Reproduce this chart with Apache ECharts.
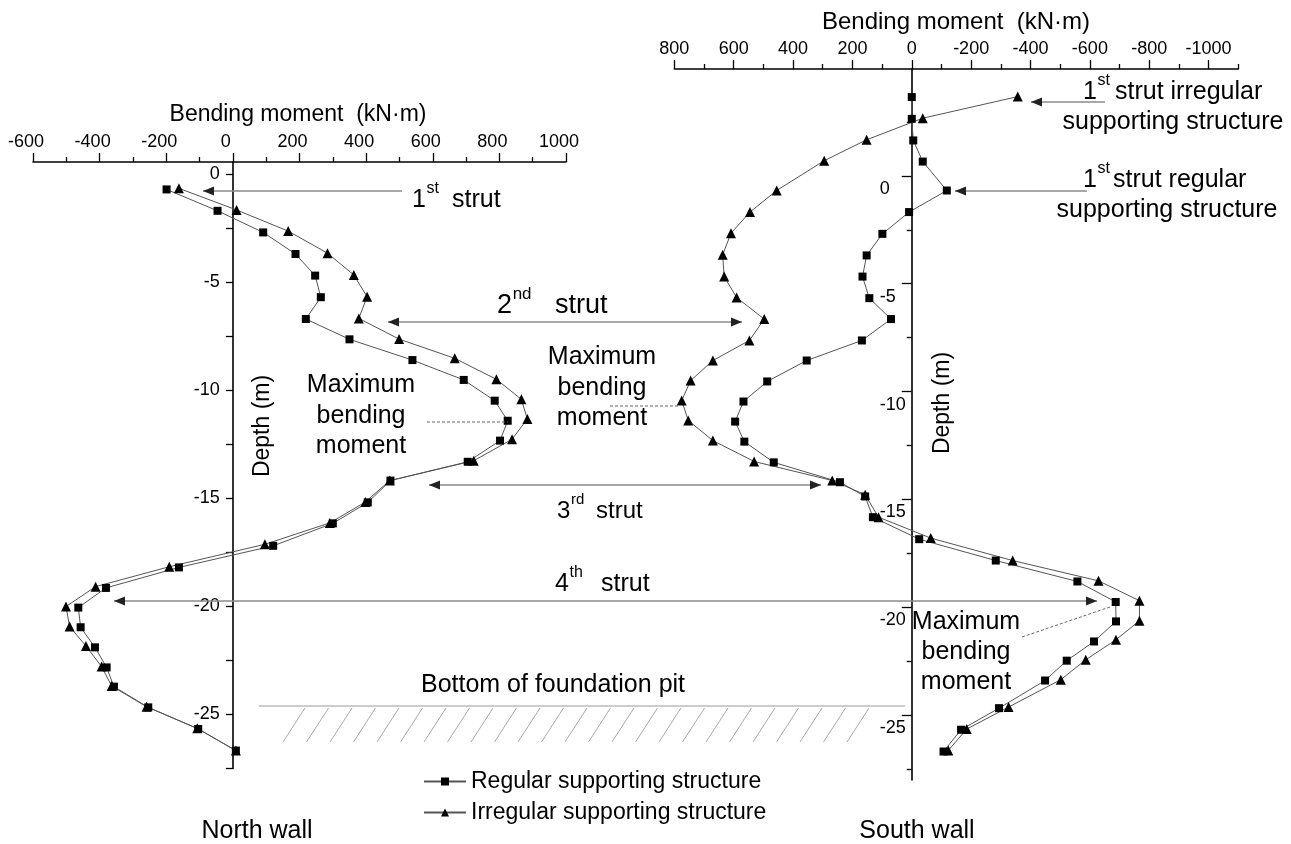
<!DOCTYPE html>
<html><head><meta charset="utf-8">
<script src="https://cdn.jsdelivr.net/npm/echarts@6/dist/echarts.min.js"></script>
<style>html,body{margin:0;padding:0;background:#fff}#c{width:1291px;height:844px}</style>
</head><body><div id="c"></div>
<script>
// ---- North wall (left panel) ----
const northRegDepth = [-0.69,-1.68,-2.68,-3.68,-4.68,-5.68,-6.69,-7.63,-8.59,-9.51,-10.47,-11.40,-12.32,-13.30,-14.17,-15.18,-16.15,-17.19,-18.19,-19.14,-20.05,-20.96,-21.89,-22.82,-23.71,-24.67,-25.67,-26.67];
const northRegular  = [-199,-46,91,188,247,264,219,350,539,693,786,825,802,705,473,405,300,121,-162,-381,-464,-457,-414,-379,-357,-254,-104,9];
const northIrrDepth = [-0.64,-1.64,-2.62,-3.64,-4.65,-5.66,-6.66,-7.62,-8.51,-9.48,-10.41,-11.32,-12.26,-13.25,-14.17,-15.16,-16.13,-17.12,-18.16,-19.08,-20.00,-20.93,-21.83,-22.78,-23.68,-24.64,-25.64,-26.67];
const northIrregular = [-162,11,166,284,363,403,378,499,666,791,866,884,838,723,471,398,291,96,-191,-412,-501,-490,-441,-394,-364,-259,-107,9];
// ---- South wall (right panel) ----
const southRegDepth = [3.65,2.64,1.64,0.66,-0.68,-1.68,-2.69,-3.69,-4.67,-5.67,-6.64,-7.63,-8.56,-9.53,-10.46,-11.39,-12.32,-13.28,-14.20,-14.86,-15.82,-16.84,-17.83,-18.80,-19.75,-20.65,-21.58,-22.47,-23.39,-24.67,-25.67,-26.68];
const southRegular  = [0,0,-5,-37,-118,9,99,152,166,143,70,168,354,487,567,595,564,465,242,157,131,-25,-283,-558,-687,-688,-614,-522,-449,-294,-166,-107];
const southIrrDepth = [3.67,2.67,1.67,0.70,-0.68,-1.68,-2.66,-3.66,-4.67,-5.64,-6.64,-7.63,-8.56,-9.49,-10.41,-11.34,-12.27,-13.24,-14.12,-14.78,-15.82,-16.79,-17.83,-18.77,-19.69,-20.62,-21.50,-22.43,-23.35,-24.62,-25.64,-26.63];
const southIrregular = [-357,-37,152,295,455,545,609,637,632,590,497,547,670,745,775,753,670,531,268,157,112,-64,-340,-629,-767,-767,-688,-586,-502,-326,-185,-123];
// ---- ticks ----
const leftDepthLabels = [0,-5,-10,-15,-20,-25];
const leftDepthTicks = [0,-2.5,-5,-7.5,-10,-12.5,-15,-17.5,-20,-22.5,-25,-27.5];
const rightDepthLabels = [5,0,-5,-10,-15,-20,-25];
const rightDepthMinor = [2.5,-2.5,-7.5,-12.5,-17.5,-22.5,-27.5];
const rightMomentLabels = [800,600,400,200,0,-200,-400,-600,-800,-1000];
const rightMomentMinor = [700,500,300,100,-100,-300,-500,-700,-900,-1100];
const REG = 'Regular supporting structure';
const IRR = 'Irregular supporting structure';

const F = 'Liberation Sans, Arial, Helvetica, sans-serif';
const pairs = (d, v) => d.map((y, i) => [v[i], y]);

function lineSeries(name, xi, yi, depth, vals, sym, size) {
  return {
    name, type: 'line', xAxisIndex: xi, yAxisIndex: yi,
    data: pairs(depth, vals), symbol: sym, symbolSize: size,
    itemStyle: { color: '#000' },
    lineStyle: { color: '#555', width: 1 },
    animation: false
  };
}

const G = [];
function txt(x, y, s, size, align, extra) {
  G.push(Object.assign({ type: 'text', x, y, style: { text: s, font: size + 'px ' + F, fill: '#000', textAlign: align || 'left', textVerticalAlign: 'middle' } }, extra || {}));
}
function head(x, y, dir) {
  const L = 11, W = 4.5;
  const pts = dir < 0 ? [[x, y], [x + L, y - W], [x + L, y + W]] : [[x, y], [x - L, y - W], [x - L, y + W]];
  G.push({ type: 'polygon', shape: { points: pts }, style: { fill: '#222' }, z: 10 });
}
function arrow(x1, x2, y, both) {
  G.push({ type: 'line', shape: { x1, y1: y, x2, y2: y }, style: { stroke: '#8a8a8a', lineWidth: 1.4 }, z: 9 });
  head(x1, y, -1);
  if (both) head(x2, y, 1);
}
function dashed(x1, y1, x2, y2) {
  G.push({ type: 'line', shape: { x1, y1, x2, y2 }, style: { stroke: '#666', lineWidth: 1, lineDash: [3, 2] }, z: 9 });
}
function sup(x, y, base, supTxt, restX, rest, size) {
  txt(x, y, base, size);
  txt(x + size * 0.58, y - size * 0.45, supTxt, Math.round(size * 0.62));
  txt(restX, y, rest, size);
}

// axis titles
txt(298, 115, 'Bending moment  (kN·m)', 23, 'center');
txt(956, 22, 'Bending moment  (kN·m)', 24, 'center');
G.push({ type: 'text', x: 263, y: 426, rotation: Math.PI / 2, style: { text: 'Depth (m)', font: '23px ' + F, fill: '#000', textAlign: 'center', textVerticalAlign: 'middle' } });
G.push({ type: 'text', x: 943, y: 403, rotation: Math.PI / 2, style: { text: 'Depth (m)', font: '23px ' + F, fill: '#000', textAlign: 'center', textVerticalAlign: 'middle' } });

// annotations
arrow(203, 402, 191, false);
sup(412, 200, '1', 'st', 452, 'strut', 25);
arrow(1031, 1105, 102, false);
sup(1083, 92, '1', 'st', 1115, 'strut irregular', 25);
txt(1173, 122, 'supporting structure', 25, 'center');
arrow(955, 1087, 191, false);
sup(1083, 180, '1', 'st', 1113, 'strut regular', 25);
txt(1167, 210, 'supporting structure', 25, 'center');
arrow(388, 742, 322, true);
sup(497, 306, '2', 'nd', 555, 'strut', 27);
arrow(429, 821, 485, true);
sup(557, 511, '3', 'rd', 596, 'strut', 24);
arrow(114, 1097, 601, true);
sup(555, 584, '4', 'th', 601, 'strut', 25);
txt(361, 385, 'Maximum', 25, 'center'); txt(361, 416, 'bending', 25, 'center'); txt(361, 446, 'moment', 25, 'center');
dashed(427, 422, 508, 422);
txt(602, 357, 'Maximum', 25, 'center'); txt(602, 388, 'bending', 25, 'center'); txt(602, 418, 'moment', 25, 'center');
dashed(610, 406, 678, 406);
txt(966, 622, 'Maximum', 25, 'center'); txt(966, 652, 'bending', 25, 'center'); txt(966, 682, 'moment', 25, 'center');
dashed(1022, 637, 1110, 607);
// foundation pit bottom
txt(553, 685, 'Bottom of foundation pit', 25, 'center');
G.push({ type: 'line', shape: { x1: 259, y1: 706, x2: 905, y2: 706 }, style: { stroke: '#999', lineWidth: 1.2 } });
for (let x = 283; x <= 860; x += 23.5) {
  G.push({ type: 'line', shape: { x1: x, y1: 742, x2: x + 22, y2: 708 }, style: { stroke: '#aaa', lineWidth: 1 } });
}
txt(257, 831, 'North wall', 25, 'center');
txt(917, 831, 'South wall', 25, 'center');

const axisBase = {
  type: 'value', splitLine: { show: false },
  axisLine: { onZero: false, lineStyle: { color: '#000', width: 1.6 } },
  axisTick: { lineStyle: { color: '#000', width: 1.3 } },
  axisLabel: { color: '#000', fontSize: 18, fontFamily: F, formatter: (v) => String(v) }
};
const ax = (o) => echarts.util.merge(echarts.util.clone(axisBase), o, true);

// pixel distance from each grid's left edge to the moment = 0 position
const LGL = 33, LGW = 533, RGL = 674.3, RGW = 564;
const leftZero = LGW * 600 / 1600;
const rightZero = RGW * 800 / 1900;

const option = {
  backgroundColor: '#fff',
  animation: false,
  grid: [
    { left: LGL, top: 162, width: LGW, height: 606.5, containLabel: false, outerBoundsMode: 'none' },
    { left: RGL, top: 69, width: RGW, height: 711, containLabel: false, outerBoundsMode: 'none' }
  ],
  xAxis: [
    ax({ gridIndex: 0, position: 'top', min: -600, max: 1000, interval: 200,
         axisTick: { length: 9 }, minorTick: { show: true, splitNumber: 2, length: 5, lineStyle: { color: '#000', width: 1.3 } },
         axisLabel: { margin: 11, padding: [0, 14, 0, 0] } }),
    ax({ gridIndex: 1, position: 'top', inverse: true, min: -1100, max: 800,
         axisTick: { length: 9, customValues: rightMomentLabels },
         axisLabel: { margin: 11, customValues: rightMomentLabels } }),
    ax({ gridIndex: 1, position: 'top', inverse: true, min: -1100, max: 800,
         axisLine: { show: false }, axisTick: { length: 5, customValues: rightMomentMinor },
         axisLabel: { show: false } })
  ],
  yAxis: [
    ax({ gridIndex: 0, position: 'left', min: -27.5, max: 0.58, offset: -leftZero,
         axisTick: { length: 7, customValues: leftDepthTicks },
         axisLabel: { margin: 13, customValues: leftDepthLabels } }),
    ax({ gridIndex: 1, position: 'left', min: -28, max: 4.95, offset: -rightZero,
         axisTick: { length: 10, customValues: rightDepthLabels },
         axisLabel: { margin: 32, align: 'left', verticalAlign: 'top', padding: [4, 0, 0, 0], customValues: rightDepthLabels } }),
    ax({ gridIndex: 1, position: 'left', min: -28, max: 4.95, offset: -rightZero,
         axisLine: { show: false },
         axisTick: { length: 5, customValues: rightDepthMinor },
         axisLabel: { show: false } })
  ],
  legend: {
    orient: 'vertical', left: 418, top: 765, itemWidth: 42, itemHeight: 10, itemGap: 8,
    textStyle: { fontSize: 23, color: '#000', fontFamily: F },
    data: [REG, IRR]
  },
  series: [
    lineSeries(REG, 0, 0, northRegDepth, northRegular, 'rect', 8),
    lineSeries(IRR, 0, 0, northIrrDepth, northIrregular, 'triangle', 10),
    lineSeries(REG, 1, 1, southRegDepth, southRegular, 'rect', 8),
    lineSeries(IRR, 1, 1, southIrrDepth, southIrregular, 'triangle', 10)
  ],
  graphic: G
};
const chart = echarts.init(document.getElementById('c'), null, { renderer: 'canvas' });
chart.setOption(option);
</script></body></html>
